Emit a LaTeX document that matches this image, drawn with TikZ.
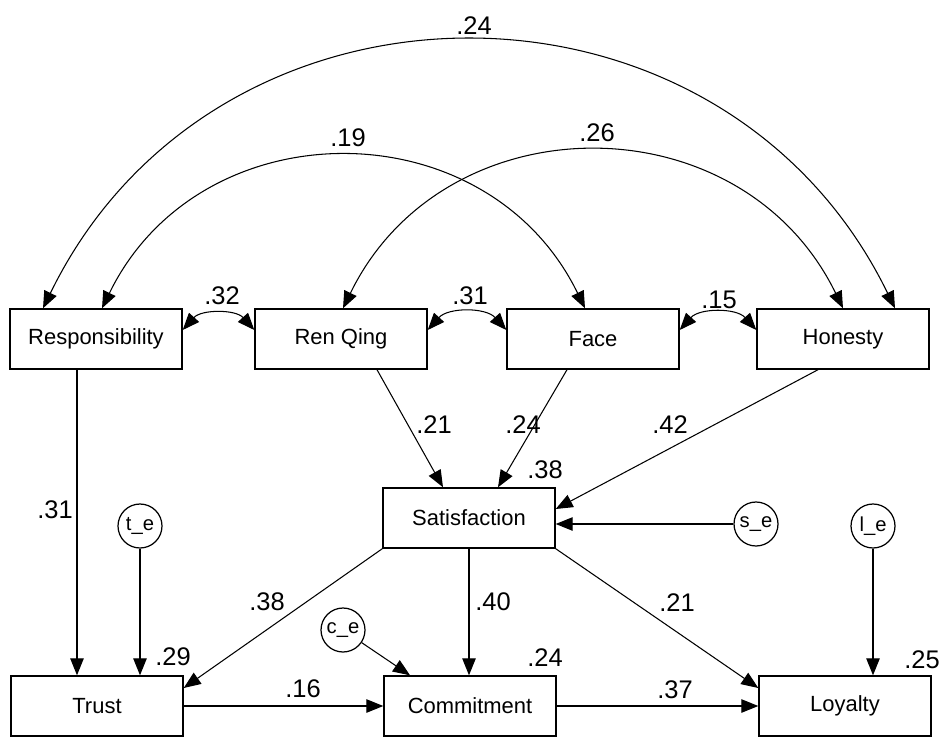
\documentclass[tikz,border=0pt]{standalone}
\usepackage{fontspec}
\setmainfont{Liberation Sans}
\usetikzlibrary{arrows.meta}

\begin{document}
\begin{tikzpicture}[
    >={Triangle[length=3.4mm,width=2.7mm]},
    line width=0.6pt,
    % Styles
    var/.style={
        rectangle, draw, line width=0.8pt,
        minimum width=3.44cm, minimum height=1.2cm, inner sep=2pt,
        font=\fontsize{12.5}{14}\selectfont
    },
    err/.style={
        circle, draw, line width=0.7pt,
        minimum size=0.88cm, inner sep=0pt,
        font=\fontsize{11.5}{13}\selectfont
    },
    reg/.style={->},
    cov/.style={<->, out=64, in=116, looseness=1.19},
    covshort/.style={<->, out=48, in=132, looseness=1},
    coef/.style={font=\fontsize{14.5}{16}\selectfont, inner sep=1pt},
]

\useasboundingbox (0,0) rectangle (18.86,14.74);

%--- Observed variables ---%
\node[var] (resp)    at (1.92,  7.96) {Responsibility};
\node[var] (renqing) at (6.82,  7.96) {Ren Qing};
\node[var] (face)    at (11.86, 7.96) {Face};
\node[var] (honesty) at (16.86, 7.96) {Honesty};

\node[var] (sat)     at (9.38,  4.38) {Satisfaction};

\node[var] (trust)   at (1.94,  0.62) {Trust};
\node[var] (commit)  at (9.40,  0.62) {Commitment};
\node[var] (loyal)   at (16.90, 0.62) {Loyalty};

%--- Error terms ---%
\node[err] (te) at (2.80,  4.22) {t\_e};
\node[err] (ce) at (6.86,  2.14) {c\_e};
\node[err] (se) at (15.12, 4.26) {s\_e};
\node[err] (le) at (17.46, 4.22) {l\_e};

%--- Covariances between exogenous variables ---
% long arcs: all cut the tops at about 64 deg
\draw[cov] ([xshift=-1.06cm]resp.north) to ([xshift=1.04cm]honesty.north);
\draw[cov] ([xshift=0.12cm]resp.north) to ([xshift=-0.16cm]face.north);
\draw[cov] ([xshift=0.04cm]renqing.north) to (honesty.north);

% short arcs between neighbours
\draw[covshort] ([yshift=0.18cm]resp.east)    to ([yshift=0.18cm]renqing.west);
\draw[covshort] ([yshift=0.18cm]renqing.east) to ([yshift=0.18cm]face.west);
\draw[covshort] ([yshift=0.18cm]face.east)    to ([yshift=0.18cm]honesty.west);

%--- Paths into Satisfaction ---
\draw[reg] ([xshift=0.72cm]renqing.south) -- ([xshift=-0.52cm]sat.north);
\draw[reg] ([xshift=-0.52cm]face.south)   -- ([xshift=0.58cm]sat.north);
\draw[reg] ([xshift=-0.5cm]honesty.south) -- ([yshift=0.18cm]sat.east);
\draw[reg] (se.west) -- (se.west -| sat.east);

%--- Paths into the outcomes ---
\draw[reg] ([xshift=-0.38cm]resp.south) -- ([xshift=-0.38cm]resp.south |- trust.north);
\draw[reg] (te) -- (te |- trust.north);
\draw[reg] (sat.south west) -- ([yshift=0.36cm]trust.east);
\draw[reg] (sat.south) -- (sat.south |- commit.north);
\draw[reg] (ce) -- ([xshift=-1.2cm]commit.north);
\draw[reg] (sat.south east) -- ([yshift=0.36cm]loyal.west);
\draw[reg] (le) -- (le |- loyal.north);
\draw[reg] (trust) -- (commit);
\draw[reg] (commit) -- (loyal);

%--- Coefficients ---
% correlations
\node[coef] (k1) at (9.48,  14.22) {.24};
\node[coef] (k2) at (6.96,  11.98) {.19};
\node[coef] (k3) at (11.94, 12.08) {.26};
\node[coef] (k4) at (4.44,  8.82)  {.32};
\node[coef] (k5) at (9.40,  8.82)  {.31};
\node[coef] (k6) at (14.38, 8.74)  {.15};

% paths
\node[coef] (p1) at (8.68,  6.24) {.21};
\node[coef] (p2) at (10.46, 6.24) {.24};
\node[coef] (p3) at (13.40, 6.24) {.42};
\node[coef] (p4) at (1.10,  4.54) {.31};
\node[coef] (p5) at (5.34,  2.70) {.38};
\node[coef] (p6) at (9.86,  2.70) {.40};
\node[coef] (p7) at (13.54, 2.68) {.21};
\node[coef] (p8) at (6.06,  0.96) {.16};
\node[coef] (p9) at (13.50, 0.94) {.37};

% squared multiple correlations
\node[coef] (r1) at (10.90, 5.34) {.38};
\node[coef] (r2) at (3.46,  1.60) {.29};
\node[coef] (r3) at (10.90, 1.58) {.24};
\node[coef] (r4) at (18.44, 1.54) {.25};

\end{tikzpicture}
\end{document}
